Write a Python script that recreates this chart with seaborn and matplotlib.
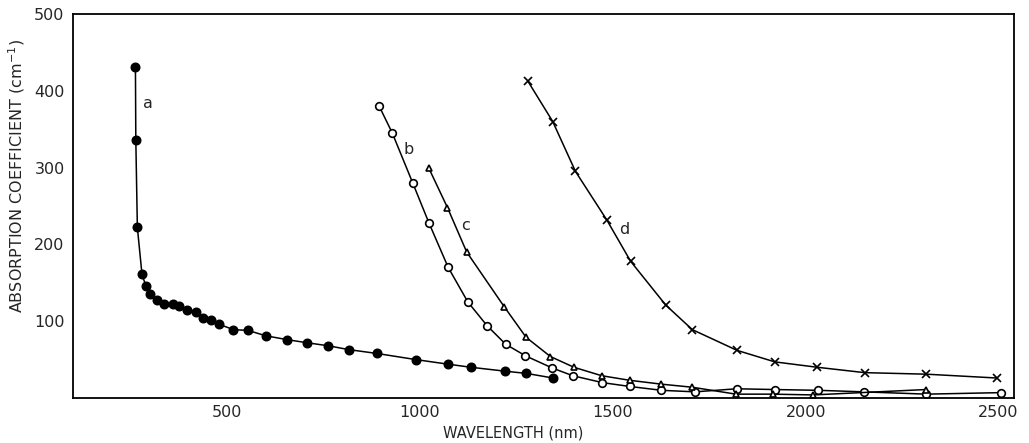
import matplotlib
matplotlib.use("Agg")
import matplotlib.pyplot as plt
from matplotlib.ticker import FixedLocator
import seaborn as sns

# ---- data ----
a_wl = [262, 263, 267, 279, 289, 300, 318, 335, 359, 376, 396, 419, 436, 459, 479,
        516, 554, 600, 655, 706, 762, 815, 888, 989, 1073, 1132, 1219, 1276, 1345]
a_val = [431, 336, 222, 161, 146, 135, 127, 122, 122, 120, 115, 112, 104, 102, 96,
         89, 88, 81, 76, 72, 68, 63, 58, 50, 44, 40, 35, 32, 26]

b_wl = [894, 928, 981, 1023, 1073, 1124, 1174, 1222, 1273, 1343, 1396, 1473, 1544,
        1626, 1713, 1821, 1920, 2032, 2150, 2313, 2507]
b_val = [380, 345, 280, 228, 170, 125, 94, 70, 55, 39, 29, 20, 15,
         10, 8, 12, 11, 10, 8, 5, 7]

c_wl = [1023, 1071, 1121, 1218, 1275, 1338, 1399, 1471, 1544, 1626, 1706, 1819, 1914, 2019, 2311]
c_val = [299, 248, 190, 119, 79, 54, 40, 29, 23, 18, 14, 5, 5, 4, 11]

d_wl = [1279, 1344, 1403, 1484, 1546, 1637, 1706, 1822, 1920, 2030, 2153, 2313, 2496]
d_val = [413, 360, 295, 232, 178, 121, 89, 62, 47, 40, 33, 31, 26]

curve_labels = ["a", "b", "c", "d"]
label_pos_wl = [295, 971, 1119, 1529]
label_pos_val = [383, 324, 225, 219]

x_ticks = [500, 1000, 1500, 2000, 2500]
y_ticks = [100, 200, 300, 400, 500]

# ---- figure ----
sns.set_style("white")
plt.rcParams["font.family"] = ["DejaVu Sans"]

fig = plt.figure(figsize=(10.29, 4.43), dpi=100)
ax = fig.add_axes([0.0709, 0.1016, 0.9145, 0.8668])

common = dict(color="black", linewidth=1.1, markeredgecolor="black",
              markeredgewidth=1.2, ax=ax, legend=False)
sns.lineplot(x=a_wl, y=a_val, marker="o", markersize=6,
             markerfacecolor="black", **common)
sns.lineplot(x=b_wl, y=b_val, marker="o", markersize=5.5,
             markerfacecolor="white", **common)
sns.lineplot(x=c_wl, y=c_val, marker="^", markersize=5,
             markerfacecolor="white", **common)
sns.lineplot(x=d_wl, y=d_val, marker="x", markersize=5.5, **common)

for t, xv, yv in zip(curve_labels, label_pos_wl, label_pos_val):
    ax.text(xv, yv, t, fontsize=11.5, ha="center", va="center")

ax.set_xlim(100, 2540)
ax.set_ylim(0, 500)
ax.set_xticks(x_ticks)
ax.xaxis.set_minor_locator(FixedLocator([v for v in range(600, 2500, 100) if v % 500]))
ax.set_yticks(y_ticks)
ax.tick_params(axis="x", which="major", direction="in", length=6, width=1.2,
               labelsize=11.5, pad=5)
ax.tick_params(axis="x", which="minor", direction="in", length=3.5, width=1.0)
ax.tick_params(axis="y", direction="in", length=5, width=1.1, labelsize=11.5, pad=6)

ax.set_xlabel("WAVELENGTH (nm)", fontsize=10.5)
ax.xaxis.set_label_coords(0.468, -0.072)
ax.set_ylabel("ABSORPTION COEFFICIENT (cm$^{-1}$)", fontsize=11.5)
ax.yaxis.set_label_coords(-0.049, 0.578)

for s in ax.spines.values():
    s.set_color("black")
    s.set_linewidth(1.3)

fig.savefig("out.png", dpi=100)
